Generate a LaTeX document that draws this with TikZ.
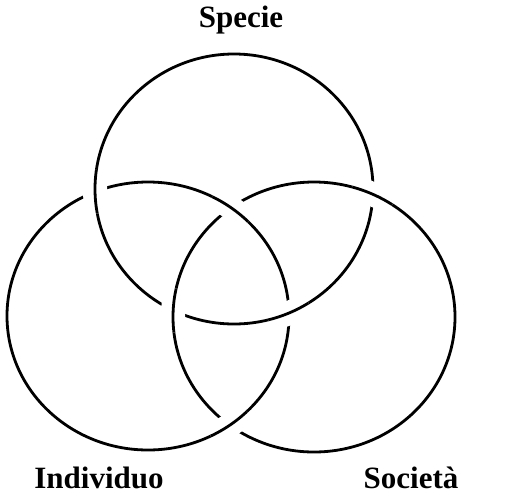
\documentclass[tikz,border=0pt]{standalone}
\usepackage{fontspec}
\setmainfont{Liberation Serif}
\usetikzlibrary{intersections}

\begin{document}
\begin{tikzpicture}[x=1pt, y=-1pt,
    ring/.style={draw, line width=2.8pt},
    halo/.style={draw=white, line width=24pt},
    label/.style={anchor=base, inner sep=0pt, font=\bfseries\fontsize{31}{32}\selectfont}]
  \useasboundingbox (0,0) rectangle (518,498);
  % the three rings
  \path[ring, name path=specie] (234,189) ellipse [x radius=139, y radius=135];
  \path[ring, name path=individuo] (148,316) ellipse [x radius=141, y radius=134];
  \path[ring, name path=societa] (314,317) ellipse [x radius=141, y radius=135];
  % crossings: specie over individuo, individuo over societa, societa over specie
  \path[name intersections={of=specie and individuo, name=si}];
  \path[name intersections={of=individuo and societa, name=is}];
  \path[name intersections={of=societa and specie, name=ss}];
  \foreach \p in {si-1,si-2} {
    \begin{scope}
      \clip (\p) circle (22);
      \path[halo] (234,189) ellipse [x radius=139, y radius=135];
      \path[ring] (234,189) ellipse [x radius=139, y radius=135];
    \end{scope}
  }
  \foreach \p in {is-1,is-2} {
    \begin{scope}
      \clip (\p) circle (22);
      \path[halo] (148,316) ellipse [x radius=141, y radius=134];
      \path[ring] (148,316) ellipse [x radius=141, y radius=134];
    \end{scope}
  }
  \foreach \p in {ss-1,ss-2} {
    \begin{scope}
      \clip (\p) circle (22);
      \path[halo] (314,317) ellipse [x radius=141, y radius=135];
      \path[ring] (314,317) ellipse [x radius=141, y radius=135];
    \end{scope}
  }
  % labels
  \node[label] (lspecie) at (241,27) {Specie};
  \node[label] (lindividuo) at (99,488) {Individuo};
  \node[label] (lsocieta) at (411,488) {Società};
\end{tikzpicture}
\end{document}
